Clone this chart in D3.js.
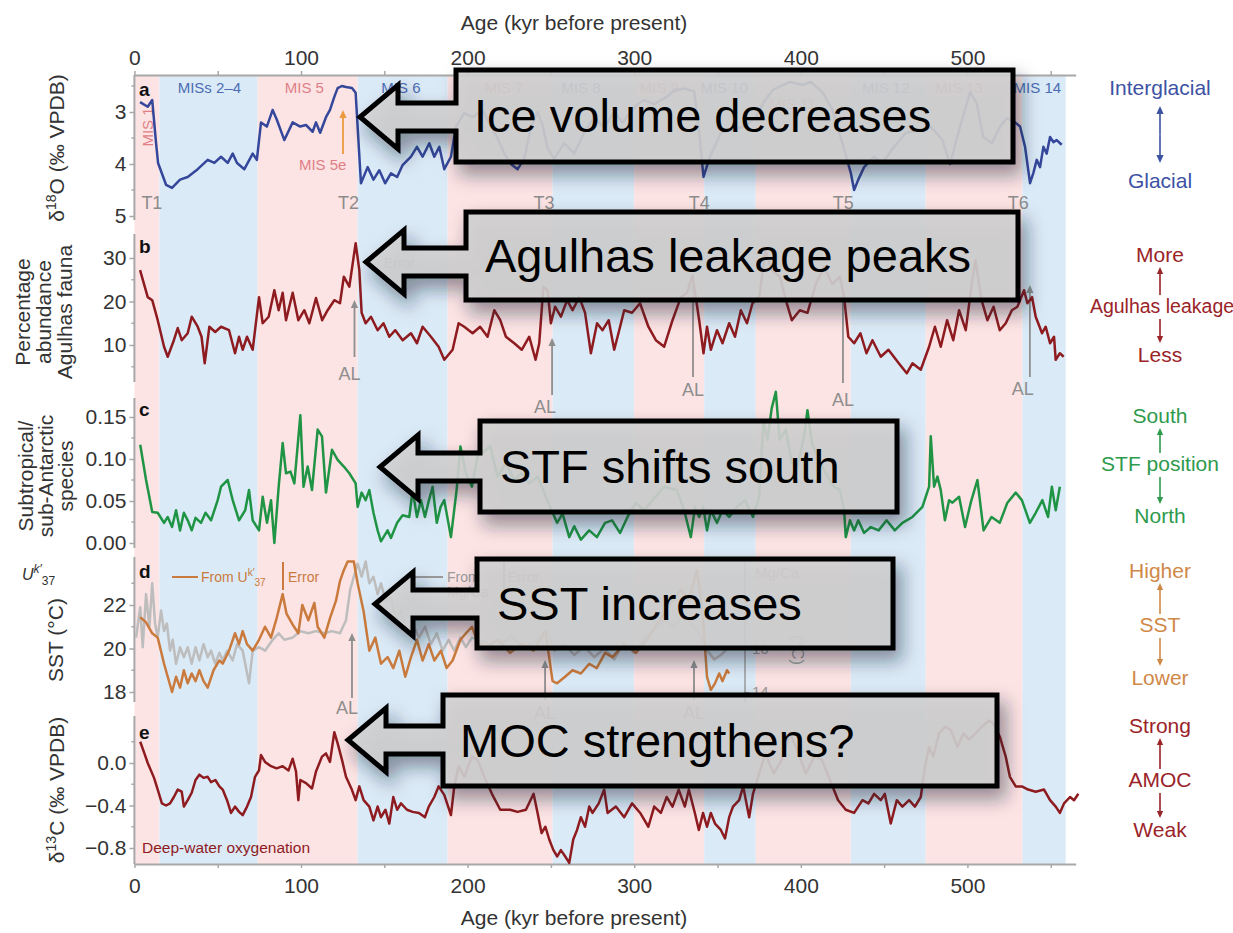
<!DOCTYPE html>
<html>
<head>
<meta charset="utf-8">
<script src="https://cdn.jsdelivr.net/npm/d3@7"></script>
<style>
  body { margin: 0; background: #fff; }
  svg { font-family: "Liberation Sans", Arial, Helvetica, sans-serif; }
</style>
</head>
<body>
<svg id="chart" width="1233" height="933"></svg>
<script>
"use strict";

// ---- data: [age kyr, value] ----
var d18O = [[3.4,2.81],[8,2.9],[10.7,2.77],[13,3.6],[14.2,3.98],[19,4.4],[22.6,4.46],[27.4,4.3],[32,4.25],[38,4.1],[44,3.92],[48,3.98],[52,3.86],[56,3.98],[59,3.8],[61.6,3.98],[66,4.1],[71,3.8],[73.5,3.92],[76,3.2],[79.5,3.28],[83,2.96],[85.5,3.15],[90,3.54],[95,3.2],[99.5,3.28],[103,3.25],[107,3.38],[109,3.2],[111.5,3.4],[115,3.1],[117.4,2.96],[120,2.71],[122,2.54],[124.5,2.5],[127,2.52],[130.6,2.54],[132.8,2.63],[134.8,3.73],[136,4.37],[140,4.06],[143.5,4.3],[147,4.12],[150.5,4.37],[154,4.18],[157.7,4.25],[161,4.02],[166,3.86],[169.6,3.67],[173,3.86],[177,3.6],[180,3.86],[183,3.67],[186,4.1],[190,3.86],[193,3.28],[198,3.02],[203,3.1],[209,2.96],[214,3.28],[218,3.5],[222,3.8],[226,4.0],[230,4.1],[234,3.9],[238,3.3],[242,3.0],[245,3.25],[248,3.7],[252,3.9],[258,3.6],[264,3.8],[270,3.4],[276,3.1],[282,3.3],[288,3.0],[293,3.2],[298,3.0],[302,2.85],[306,2.77],[312,2.85],[316,2.77],[320,2.7],[324,2.58],[330,2.55],[336,2.6],[339,3.4],[341.6,4.25],[345,3.9],[352,3.4],[359,3.35],[366,3.28],[373,3.1],[378,2.8],[383,2.58],[388,2.5],[393.6,2.42],[401,2.48],[406,2.42],[413,2.62],[419,2.96],[425,3.6],[430,4.17],[432,4.5],[434.5,4.3],[438,4.06],[444,3.86],[449,3.98],[456,3.67],[463,3.4],[471,3.35],[478,3.28],[485,3.54],[489.6,4.0],[495.6,3.28],[501.6,2.62],[505.6,2.83],[509.5,3.48],[514.7,3.6],[519.6,3.28],[523.6,3.12],[528.6,3.2],[531.6,3.28],[534.6,3.67],[537.6,4.37],[539.6,4.17],[541.6,3.92],[543.6,4.06],[545.6,3.67],[547.6,3.8],[549.6,3.48],[551.6,3.58],[553.6,3.54],[556.6,3.63]];

var agulhas = [[3.4,27.2],[8,21],[10.7,20.3],[14,15.7],[17.8,9.6],[20,7.3],[23.7,11.1],[26,13.9],[28.4,11.1],[32,12.7],[34.4,16.5],[38,14.2],[40.3,11.9],[42.2,5.8],[45,14.2],[48.5,13],[52,14.2],[56.8,13.4],[60.4,8.1],[62.8,11.9],[65,8.9],[67.6,11.9],[71,8.9],[74.8,21],[77,15],[80.6,16.5],[84,22.6],[86.6,18],[89,22],[91,15.7],[95,22],[98.4,15.7],[102,18],[105,15],[109,20.8],[112.7,15.7],[116,18],[120,20.3],[123.4,19.6],[125.7,25.7],[129,23.4],[132.8,33.4],[135,27.2],[136.4,17.4],[138.8,15],[142,16.5],[146,13.4],[149.5,15],[153,11.9],[156.6,13.4],[161,11.1],[166,12.7],[169.6,10.4],[173,14.2],[178,11.9],[182.6,9.6],[186,6.6],[191,8.9],[194.6,15],[198,14.2],[203,12.7],[207.5,14.2],[212,11.9],[216,18],[219.6,15.7],[223,11.9],[228,10.4],[232.5,8.9],[237,11.9],[240.8,6.6],[243,10.4],[245.5,23.4],[248,22.6],[250,15],[252.5,18.8],[256,16.5],[259.7,20.3],[263,18],[267,21],[270.5,17.4],[274,8.1],[277.7,15],[281,13.4],[284.7,15.7],[288,8.9],[291,13.4],[294,18],[298.7,17.4],[303.5,19.6],[308.5,14.2],[313,11.1],[318,9.6],[323,15.7],[328,21],[331.6,22],[335,26],[339,15.7],[341.6,8.1],[343.7,14.2],[346,8.9],[349.7,13.4],[353,10.4],[357,15],[360.5,11.9],[364,18],[367.7,15],[371,19.6],[375,21],[378.8,31.8],[382.5,27.2],[387.5,25.7],[391,20.3],[394.6,15.7],[399.4,18],[404,17.4],[409,24],[414,28],[418.8,24],[423.5,25.7],[426,21],[428.5,11.9],[432,10.4],[435.8,12.7],[439.4,8.1],[443,11.1],[448,7.3],[452.6,8.9],[458.8,5.8],[463.6,3.5],[467,5.8],[472,4.3],[477,9.6],[480.5,14.2],[484,9.6],[487.8,15.7],[491.5,11.1],[495,18],[499,13.4],[502.4,23.4],[504.8,29.5],[508.5,20.3],[512,15.7],[515.7,18.8],[519.4,13.4],[523,15],[526.7,18],[530,18.8],[534,22.6],[536,19.6],[538.8,21],[541,16.5],[544.8,12.7],[547,14.2],[549.6,10.4],[552,11.9],[553,6.6],[555.5,8.1],[557.8,7.3]];

var stfRatio = [[3.5,0.117],[7,0.075],[10.7,0.037],[14,0.036],[17.8,0.024],[20,0.031],[22.6,0.019],[25,0.039],[27.4,0.015],[29.7,0.036],[32,0.027],[34.4,0.015],[36.7,0.030],[40,0.024],[42.7,0.036],[46,0.027],[50,0.051],[52,0.067],[56,0.075],[59,0.051],[62.8,0.027],[66.5,0.039],[68.8,0.063],[71,0.027],[74.8,0.015],[77,0.055],[79.6,0.024],[82,0.051],[84,0.0],[86.6,0.067],[89,0.119],[91,0.083],[93.7,0.085],[96,0.071],[99.6,0.152],[101.5,0.067],[104,0.091],[106.6,0.063],[110,0.135],[112.6,0.127],[115,0.060],[118.6,0.111],[122,0.099],[125.7,0.091],[129,0.083],[132.8,0.071],[134,0.043],[136.4,0.060],[138.8,0.051],[141,0.063],[143.5,0.036],[146,0.015],[148,0.002],[152,0.015],[154,0.006],[157.7,0.024],[161,0.033],[165,0.031],[167,0.063],[169.6,0.031],[172,0.051],[174.4,0.031],[176.8,0.051],[179,0.067],[181.5,0.024],[183.8,0.043],[186,0.051],[190,0.007],[193.4,0.063],[195.7,0.115],[199,0.083],[202.6,0.067],[206,0.103],[213.5,0.115],[218,0.079],[223,0.095],[228,0.075],[232.6,0.083],[237,0.071],[242,0.079],[248,0.05],[253.7,0.024],[257,0.035],[261,0.007],[264,0.02],[268,0.004],[273,0.015],[277.6,0.007],[282.5,0.024],[286.7,0.027],[291.5,0.012],[296,0.031],[301,0.048],[306,0.039],[311,0.051],[318,0.067],[325.5,0.063],[330,0.039],[334,0.007],[336.5,0.043],[339,0.031],[341.4,0.043],[343.7,0.015],[346,0.039],[349.7,0.024],[353,0.039],[357,0.031],[361.7,0.043],[366.5,0.051],[371.3,0.031],[375,0.055],[377.6,0.146],[380,0.123],[382.5,0.16],[385,0.18],[387.3,0.123],[391,0.135],[394.6,0.095],[398,0.091],[402,0.127],[404,0.158],[406.7,0.119],[410,0.103],[415,0.083],[420,0.067],[423.5,0.063],[426,0.039],[427,0.007],[429.5,0.027],[432,0.015],[434.5,0.027],[438,0.012],[442,0.019],[446.7,0.015],[451.5,0.027],[456.4,0.015],[461,0.024],[467,0.031],[473,0.043],[477,0.067],[478,0.127],[480,0.067],[482,0.079],[484,0.063],[486.5,0.027],[489,0.051],[491,0.048],[495,0.055],[498.6,0.019],[502,0.048],[506,0.075],[509.7,0.015],[514.5,0.031],[519.4,0.024],[524,0.048],[529,0.060],[532.7,0.051],[537.5,0.024],[541,0.036],[545,0.051],[548.4,0.031],[550.7,0.067],[553,0.039],[555.5,0.067]];

var sstUk37 = [[3.5,21.44],[7,21.2],[10.7,20.7],[14,20.5],[17.8,19.3],[20,18.7],[22.6,18.0],[25,18.7],[27.4,18.2],[29.7,19.0],[32,18.4],[34.4,18.85],[36.7,18.5],[39,19.0],[41.5,18.5],[44,18.2],[47.5,19.0],[51,19.45],[53,19.3],[56.8,19.9],[60.4,20.7],[62.8,20.2],[65,20.8],[67.6,20.2],[71,19.9],[74.8,20.4],[78.4,21.0],[82,20.5],[85.4,21.4],[89,22.5],[91.3,21.6],[95,21.1],[98.4,20.7],[100.8,22.0],[104.4,21.3],[108,22.1],[110,21.0],[114,20.5],[117.4,21.4],[121,22.2],[123.4,23.1],[125.7,23.6],[128,24.0],[131.7,24.0],[134,23.0],[137.6,21.7],[141,19.9],[144.6,20.5],[148,19.3],[152,19.6],[155.4,19.1],[159,19.9],[162.6,18.7],[166,19.6],[169.6,20.4],[173,19.45],[176.7,20.2],[180,19.45],[184,19.9],[187.4,19.1],[191,19.45],[195.7,20.4],[199,20.7],[202.6,21.0],[206,20.3],[211,20.06],[218,20.4],[225.5,19.8],[232.5,20.2],[239.6,19.9],[246.7,20.8],[251,18.5],[253.7,18.4],[258.5,18.7],[263,19.0],[268,18.85],[273,19.3],[277.5,19.1],[282.5,19.8],[287,19.6],[294,20.2],[301,19.8],[308.5,20.5],[316,21.4],[323,22.2],[328,22.7],[332.8,22.2],[337.7,23.6],[341.3,21.4],[343.7,18.7],[346,18.1],[348.5,18.4],[351,18.85],[353,18.5],[355.7,19.0],[357,18.85]];

// Mg/Ca SST on its own (right) axis, degC
var sstMgCa = [[1,16.5],[3.5,17.9],[5,16.06],[7,18.5],[9,17.0],[10.7,19.0],[12.4,17.15],[14,16.5],[16,17.75],[17.8,16.8],[19.5,17.15],[21.4,15.9],[23,16.4],[25,15.3],[27.4,16.06],[29.7,15.6],[32,16.06],[34.4,15.3],[36.7,16.06],[39,15.45],[41.5,16.2],[44,15.6],[46,15.9],[48.5,15.3],[51,15.8],[53,15.45],[55.6,15.9],[59,15.45],[61.6,16.2],[65,15.9],[68.8,14.4],[71,15.9],[74.8,16.06],[78.4,15.9],[83,16.4],[86.6,16.7],[90,16.4],[95,16.5],[99.6,16.8],[104.4,16.7],[109,16.8],[114,16.7],[118.6,16.8],[123.4,16.7],[127,17.3],[129.5,18.7],[131.7,19.3],[134,19.9],[136.4,19.3],[138.8,20.0],[141,19.0],[143.5,19.3],[146,18.5],[148,19.0],[150.7,18.2],[154,18.35],[156.6,17.4],[160,17.75],[163.6,16.8],[167,17.15],[170.8,16.5],[174.4,17.0],[178,16.2],[181.5,16.7],[185,15.9],[188.6,16.4],[192,15.9],[195.7,16.5],[199,16.06],[202.6,16.5],[210,16.3],[218,16.0],[226,16.6],[234,16.0],[242,16.4],[248,16.8],[252,15.9],[258,16.2],[264,15.7],[270,16.1],[276,15.6],[282,16.0],[288,15.5],[294,16.3],[300,15.8],[306,16.5],[312,16.9],[318,17.3],[324,17.0],[330,17.6],[336,17.0],[340,16.5],[344,15.9],[348,15.5],[352,15.7],[356,16.0]];

var d13C = [[3.5,0.2],[6,0.09],[8,0.0],[11.8,-0.14],[14,-0.25],[16.5,-0.38],[19,-0.40],[21.4,-0.38],[23.7,-0.32],[26,-0.25],[28.4,-0.27],[29.7,-0.41],[32,-0.35],[34.4,-0.28],[36.7,-0.16],[39,-0.11],[41.5,-0.14],[44,-0.13],[46,-0.18],[48.6,-0.16],[51,-0.22],[53,-0.25],[55.6,-0.35],[58,-0.47],[60.4,-0.41],[62.8,-0.46],[65,-0.49],[67.6,-0.41],[70,-0.32],[72.4,-0.13],[74.8,-0.07],[76,0.075],[78.4,0.01],[82,-0.03],[85.4,-0.05],[89,-0.03],[92.5,-0.07],[95,0.04],[97,-0.08],[98.4,-0.35],[99.6,-0.16],[103,-0.19],[106.6,-0.24],[109,-0.08],[112.6,0.06],[115,0.09],[117.4,0.01],[120,0.29],[122,0.185],[124.6,0.03],[127,-0.13],[130.5,-0.25],[132.8,-0.35],[135,-0.22],[137.6,-0.35],[141,-0.41],[143.5,-0.54],[146,-0.41],[148,-0.51],[150.7,-0.44],[153,-0.57],[155.4,-0.32],[157.7,-0.44],[160,-0.38],[163.6,-0.44],[167,-0.46],[170.8,-0.47],[174.4,-0.51],[176.7,-0.41],[180,-0.32],[182.6,-0.22],[186,-0.30],[190,-0.49],[192,-0.22],[194.6,-0.03],[198,-0.13],[202.6,0.06],[206,0.03],[210,-0.13],[214.6,-0.29],[219.6,-0.44],[225.5,-0.44],[230,-0.46],[235,-0.44],[239.6,-0.29],[242,-0.47],[244.4,-0.66],[246.7,-0.60],[249,-0.72],[251.5,-0.82],[253.8,-0.88],[256,-0.82],[258.6,-0.88],[261,-0.94],[263.4,-0.72],[265.7,-0.63],[268,-0.51],[270.5,-0.60],[273,-0.41],[275,-0.47],[278.7,-0.38],[282,-0.25],[284,-0.47],[289,-0.41],[294,-0.51],[298.7,-0.38],[303.6,-0.47],[308.5,-0.60],[312,-0.41],[316,-0.47],[319.5,-0.32],[323,-0.41],[326.7,-0.25],[330.4,-0.41],[332.8,-0.25],[336.4,-0.47],[338.8,-0.63],[341.3,-0.47],[343.7,-0.60],[346,-0.47],[348.5,-0.57],[352,-0.63],[354.5,-0.71],[357,-0.51],[359.3,-0.41],[363,-0.35],[365.4,-0.22],[369,-0.51],[371.3,-0.29],[375,-0.10],[378.8,0.09],[383.7,-0.10],[388.5,0.03],[393.4,0.28],[398,0.12],[403,-0.10],[408,0.06],[412.7,0.03],[417.5,-0.16],[422.4,-0.35],[427,-0.44],[432,-0.47],[437,-0.35],[440.6,-0.38],[444,-0.29],[448,-0.35],[450.4,-0.29],[454,-0.57],[457.6,-0.35],[461,-0.41],[465,-0.35],[468.5,-0.41],[472,-0.32],[474.6,-0.03],[477,0.15],[479.5,0.06],[483,0.28],[486.6,0.34],[490,0.31],[494,0.15],[497.6,0.28],[501,0.22],[505,0.28],[508.5,0.34],[513,0.40],[515.7,0.37],[519.4,0.25],[523,0.06],[525.5,-0.13],[529,-0.22],[532.7,-0.22],[536.4,-0.25],[541,-0.27],[546,-0.25],[549.6,-0.35],[553,-0.41],[555.5,-0.47],[558,-0.38],[561.6,-0.32],[564,-0.35],[566.6,-0.29]];

// marine isotope stages: [start, end, "i" interglacial | "g" glacial, label]
var misStages = [[0,15,"i","MIS 1"],[15,74,"g","MISs 2\u20134"],[74,134,"i","MIS 5"],[134,188,"g","MIS 6"],[188,251,"i","MIS 7"],[251,300,"g","MIS 8"],[300,342,"i","MIS 9"],[342,373,"g","MIS 10"],[373,430,"i","MIS 11"],[430,475,"g","MIS 12"],[475,533,"i","MIS 13"],[533,559,"g","MIS 14"]];
var misLabelAge = [null,45,102,160,222,268,315,354,395,451,495,542];
var terminations = [["T1",10.5],["T2",128.5],["T3",245.8],["T4",339],["T5",425.5],["T6",530.5]];

// ---- layout ----
var svg = d3.select("#chart");
var FONT = 21;
var TOP = 75, BOT = 864;
var x = d3.scaleLinear().domain([0, 565]).range([134.4, 1075.7]);

var yA = d3.scaleLinear().domain([3, 5]).range([112, 216]);
var yB = d3.scaleLinear().domain([10, 30]).range([345, 258]);
var yC = d3.scaleLinear().domain([0, 0.15]).range([543, 417]);
var yD = d3.scaleLinear().domain([18, 22]).range([692, 605]);
var yMg = d3.scaleLinear().domain([14, 18]).range([692, 605]);
var yE = d3.scaleLinear().domain([-0.8, 0]).range([848, 763]);

var pink = "#fce3e4", blue = "#dbeaf7";
var cBlue = "#34479a", cRed = "#8e1b1f", cGreen = "#1f9444", cOrange = "#c97a3c", cGray = "#bdbdbd";

// background stage bands
svg.append("g").selectAll("rect").data(misStages).enter().append("rect")
  .attr("x", function (d) { return x(d[0]); })
  .attr("width", function (d) { return x(d[1]) - x(d[0]); })
  .attr("y", TOP).attr("height", BOT - TOP)
  .attr("fill", function (d) { return d[2] === "i" ? pink : blue; });

// x axes
var gTop = svg.append("g").attr("transform", "translate(0," + TOP + ")")
  .call(d3.axisTop(x).tickValues(d3.range(0, 566, 50)).tickSize(4).tickSizeOuter(0).tickPadding(6)
    .tickFormat(function (d) { return d % 100 === 0 ? d : ""; }));
var gBot = svg.append("g").attr("transform", "translate(0," + BOT + ")")
  .call(d3.axisBottom(x).tickValues(d3.range(0, 566, 50)).tickSize(4).tickSizeOuter(0).tickPadding(10)
    .tickFormat(function (d) { return d % 100 === 0 ? d : ""; }));
[gTop, gBot].forEach(function (g) {
  g.select(".domain").attr("stroke", "#a8a8a8").attr("stroke-width", 2);
  g.selectAll(".tick line").attr("stroke", "#a8a8a8").attr("stroke-width", 1.5);
  g.selectAll("text").attr("font-size", FONT).attr("fill", "#333").attr("font-family", null);
});
svg.append("text").attr("x", 574).attr("y", 30).attr("text-anchor", "middle")
  .attr("font-size", FONT).attr("fill", "#333").text("Age (kyr before present)");
svg.append("text").attr("x", 574).attr("y", 925).attr("text-anchor", "middle")
  .attr("font-size", FONT).attr("fill", "#333").text("Age (kyr before present)");

// y axes
function yAxis(scale, ticks, minor, fmt, y0, y1) {
  var g = svg.append("g").attr("transform", "translate(" + x(0) + ",0)");
  g.append("line").attr("y1", y0).attr("y2", y1).attr("stroke", "#a8a8a8").attr("stroke-width", 2);
  g.call(d3.axisLeft(scale).tickValues(ticks).tickSize(5).tickPadding(3).tickFormat(fmt));
  g.select(".domain").remove();
  g.selectAll(".tick line").attr("stroke", "#a8a8a8").attr("stroke-width", 1.5);
  g.selectAll("text").attr("font-size", FONT).attr("fill", "#333").attr("font-family", null);
  minor.forEach(function (v) {
    g.append("line").attr("x1", -3).attr("x2", 0).attr("y1", scale(v)).attr("y2", scale(v))
      .attr("stroke", "#a8a8a8").attr("stroke-width", 1.5);
  });
}
yAxis(yA, [3, 4, 5], [2.5, 3.5, 4.5], d3.format("d"), TOP, 220);
yAxis(yB, [10, 20, 30], [5, 15, 25], d3.format("d"), 234, 382);
yAxis(yC, [0, 0.05, 0.1, 0.15], [0.025, 0.075, 0.125], d3.format(".2f"), 398, 548);
yAxis(yD, [18, 20, 22], [19, 21, 23], d3.format("d"), 557, 702);
yAxis(yE, [-0.8, -0.4, 0], [-0.6, -0.2, 0.2], d3.format(".1f"), 716, BOT);

// y titles
function vText(xc, yc, size, color) {
  return svg.append("text").attr("transform", "translate(" + xc + "," + yc + ") rotate(-90)")
    .attr("text-anchor", "middle").attr("font-size", size).attr("fill", color || "#333");
}
var tA = vText(64, 148, FONT);
tA.append("tspan").text("\u03b4");
tA.append("tspan").attr("font-size", 14).attr("dy", -8).text("18");
tA.append("tspan").attr("dy", 8).text("O (\u2030 VPDB)");
["Percentage", "abundance", "Agulhas fauna"].forEach(function (s, i) { vText(30 + i * 21, 312, FONT).text(s); });
["Subtropical/", "sub-Antarctic", "species"].forEach(function (s, i) { vText(33 + i * 20, 476, FONT).text(s); });
vText(63, 640, FONT).text("SST (\u00b0C)");
var tE = vText(64, 790, FONT);
tE.append("tspan").text("\u03b4");
tE.append("tspan").attr("font-size", 14).attr("dy", -8).text("13");
tE.append("tspan").attr("dy", 8).text("C (\u2030 VPDB)");

var uk = svg.append("text").attr("x", 22).attr("y", 580).attr("font-size", 16).attr("fill", "#333");
uk.append("tspan").attr("font-style", "italic").text("U");
uk.append("tspan").attr("font-style", "italic").attr("font-size", 12).attr("dy", -7).text("k\u2032");
uk.append("tspan").attr("font-size", 12).attr("dy", 12).text("37");

// panel letters
[["a", 90], ["b", 247], ["c", 410], ["d", 572], ["e", 733]].forEach(function (p) {
  svg.append("text").attr("x", 139).attr("y", p[1] + 6).attr("font-size", 19).attr("font-weight", "bold")
    .attr("fill", "#111").text(p[0]);
});

// stage labels (panel a)
misStages.forEach(function (d, i) {
  var col = d[2] === "i" ? "#e07f86" : "#4c6db3";
  if (i === 0) {
    svg.append("text").attr("transform", "translate(" + (x(7.5) + 6) + ",127) rotate(-90)")
      .attr("text-anchor", "middle").attr("font-size", 15).attr("fill", col).text(d[3]);
    return;
  }
  svg.append("text").attr("x", x(misLabelAge[i])).attr("y", i === 8 ? 109 : 93)
    .attr("text-anchor", "middle").attr("font-size", 15).attr("fill", col).text(d[3]);
});
terminations.forEach(function (t) {
  svg.append("text").attr("x", x(t[1])).attr("y", 209).attr("text-anchor", "middle")
    .attr("font-size", 18).attr("fill", "#8c8c8c").text(t[0]);
});

function vArrow(xp, y1, y2, color, w, head) {
  var dir = y2 > y1 ? 1 : -1;
  svg.append("line").attr("x1", xp).attr("x2", xp).attr("y1", y1).attr("y2", y2 - dir * head)
    .attr("stroke", color).attr("stroke-width", w);
  svg.append("path").attr("d", "M" + xp + "," + y2 + "L" + (xp - head * 0.45) + "," + (y2 - dir * head) +
    "L" + (xp + head * 0.45) + "," + (y2 - dir * head) + "Z").attr("fill", color);
}

// MIS 5e marker
vArrow(x(125.2), 154, 110, "#eb9a3e", 1.8, 8);
svg.append("text").attr("x", x(113)).attr("y", 170).attr("text-anchor", "middle")
  .attr("font-size", 15).attr("fill", "#e07f86").text("MIS 5e");

// AL markers
var gray = "#8e8e8e";
[[132.1, 357, 300, 380], [250.7, 395, 338, 413], [335.3, 377, 282, 396], [425.3, 383, 293, 406], [537.5, 377, 285, 395],
 [130.6, 698, 633, 714], [246.5, 700, 660, 719], [335.9, 700, 660, 719]].forEach(function (a, i) {
  vArrow(x(a[0]), a[1], a[2], gray, 1.8, 8);
  svg.append("text").attr("x", x(a[0]) - (i === 1 || i === 4 ? 7 : i === 0 || i === 5 ? 5 : 0)).attr("y", a[3])
    .attr("text-anchor", "middle").attr("font-size", 18).attr("fill", gray).text("AL");
});
svg.append("text").attr("x", 384).attr("y", 268).attr("font-size", 14).attr("fill", "#a0a0a0").text("Error");

// panel d legend
svg.append("line").attr("x1", 172).attr("x2", 198).attr("y1", 577).attr("y2", 577).attr("stroke", cOrange).attr("stroke-width", 2);
var lg = svg.append("text").attr("x", 201).attr("y", 582).attr("font-size", 14).attr("fill", cOrange);
lg.append("tspan").text("From U");
lg.append("tspan").attr("font-size", 10).attr("dy", -6).text("k\u2032");
lg.append("tspan").attr("font-size", 10).attr("dy", 10).text("37");
svg.append("line").attr("x1", 283).attr("x2", 283).attr("y1", 562).attr("y2", 590).attr("stroke", cOrange).attr("stroke-width", 2);
svg.append("text").attr("x", 288).attr("y", 582).attr("font-size", 14).attr("fill", cOrange).text("Error");
svg.append("line").attr("x1", 415).attr("x2", 443).attr("y1", 577).attr("y2", 577).attr("stroke", "#9a9a9a").attr("stroke-width", 2);
svg.append("text").attr("x", 447).attr("y", 582).attr("font-size", 14).attr("fill", "#9a9a9a").text("From");
svg.append("text").attr("x", 447).attr("y", 597).attr("font-size", 14).attr("fill", "#9a9a9a").text("Mg/Ca");
svg.append("line").attr("x1", 504).attr("x2", 504).attr("y1", 562).attr("y2", 590).attr("stroke", "#9a9a9a").attr("stroke-width", 2);
svg.append("text").attr("x", 508).attr("y", 582).attr("font-size", 14).attr("fill", "#9a9a9a").text("Error");

// Mg/Ca axis
var gMg = svg.append("g").attr("transform", "translate(745,0)");
gMg.append("line").attr("y1", 557).attr("y2", 702).attr("stroke", "#9a9a9a").attr("stroke-width", 1.5);
gMg.call(d3.axisRight(yMg).tickValues([14, 16, 18]).tickSize(4).tickPadding(3).tickFormat(d3.format("d")));
gMg.select(".domain").remove();
gMg.selectAll(".tick line").attr("stroke", "#9a9a9a");
gMg.selectAll("text").attr("font-size", 15).attr("fill", "#9a9a9a").attr("font-family", null);
svg.append("text").attr("x", 755).attr("y", 578).attr("font-size", 15).attr("fill", "#9a9a9a").text("Mg/Ca");
svg.append("text").attr("transform", "translate(792,650) rotate(90)").attr("text-anchor", "middle")
  .attr("font-size", 17).attr("fill", "#9a9a9a").text("(\u00b0C)");

svg.append("text").attr("x", 142).attr("y", 853).attr("font-size", 15.5).attr("fill", cRed).text("Deep-water oxygenation");

// series lines
function drawLine(data, yScale, color, w) {
  svg.append("path").datum(data)
    .attr("d", d3.line().x(function (d) { return x(d[0]); }).y(function (d) { return yScale(d[1]); }))
    .attr("fill", "none").attr("stroke", color).attr("stroke-width", w).attr("stroke-linejoin", "round");
}
drawLine(d18O, yA, cBlue, 2.5);
drawLine(agulhas, yB, cRed, 2.5);
drawLine(stfRatio, yC, cGreen, 2.5);
drawLine(sstMgCa, yMg, cGray, 2.5);
drawLine(sstUk37, yD, cOrange, 2.5);
drawLine(d13C, yE, cRed, 2.5);

// right-hand interpretation labels
function sideLabels(top, mid, bot, yt, ym, yb, color, midSize) {
  var xc = 1160;
  svg.append("text").attr("x", xc).attr("y", yt + 7).attr("text-anchor", "middle").attr("font-size", FONT).attr("fill", color).text(top);
  svg.append("text").attr("x", xc).attr("y", yb + 7).attr("text-anchor", "middle").attr("font-size", FONT).attr("fill", color).text(bot);
  if (mid) {
    svg.append("text").attr("x", xc + (midSize ? 2 : 0)).attr("y", ym + 7).attr("text-anchor", "middle")
      .attr("font-size", midSize || FONT).attr("fill", color).text(mid);
    vArrow(xc, ym - 11, yt + 12, color, 1.6, 7);
    vArrow(xc, ym + 13, yb - 12, color, 1.6, 7);
  } else {
    vArrow(xc, (yt + yb) / 2, yt + 18, color, 1.6, 8);
    vArrow(xc, (yt + yb) / 2, yb - 18, color, 1.6, 8);
  }
}
sideLabels("Interglacial", null, "Glacial", 88, 0, 181, "#3d52a3");
sideLabels("More", "Agulhas leakage", "Less", 255, 306, 355, "#9a2428", 19.5);
sideLabels("South", "STF position", "North", 416, 464, 516, "#2e9a4c");
sideLabels("Higher", "SST", "Lower", 571, 625, 678, "#d08848");
sideLabels("Strong", "AMOC", "Weak", 726, 780, 830, "#9a2428");

// callout boxes
var defs = svg.append("defs");
var f = defs.append("filter").attr("id", "shadow").attr("x", "-20%").attr("y", "-40%").attr("width", "150%").attr("height", "200%");
f.append("feDropShadow").attr("dx", 6).attr("dy", 10).attr("stdDeviation", 9).attr("flood-color", "#0a1a30").attr("flood-opacity", 0.5);

var callouts = [
  { text: "Ice volume decreases", x0: 456, x1: 1013, y0: 70, y1: 162, tipX: 360, tipY: 117, tx: 474 },
  { text: "Agulhas leakage peaks", x0: 466, x1: 1018, y0: 212, y1: 300, tipX: 366, tipY: 262, tx: 485 },
  { text: "STF shifts south", x0: 480, x1: 897, y0: 421, y1: 512, tipX: 380, tipY: 467, tx: 500 },
  { text: "SST increases", x0: 477, x1: 893, y0: 559, y1: 648, tipX: 375, tipY: 604, tx: 497 },
  { text: "MOC strengthens?", x0: 443, x1: 997, y0: 695, y1: 786, tipX: 348, tipY: 740, tx: 460 }
];
callouts.forEach(function (c) {
  var hb = c.tipX + 38, hh = 32, sh = 14;
  var d = "M" + c.x0 + "," + c.y0 + "H" + c.x1 + "V" + c.y1 + "H" + c.x0 + "V" + (c.tipY + sh) +
    "H" + hb + "V" + (c.tipY + hh) + "L" + c.tipX + "," + c.tipY + "L" + hb + "," + (c.tipY - hh) +
    "V" + (c.tipY - sh) + "H" + c.x0 + "Z";
  svg.append("path").attr("d", d).attr("fill", "rgba(208,208,208,0.88)").attr("stroke", "#000")
    .attr("stroke-width", 5).attr("stroke-linejoin", "miter").attr("filter", "url(#shadow)");
  svg.append("text").attr("x", c.tx).attr("y", (c.y0 + c.y1) / 2 + 16).attr("font-size", 47).attr("fill", "#000").text(c.text);
});
</script>
</body>
</html>
